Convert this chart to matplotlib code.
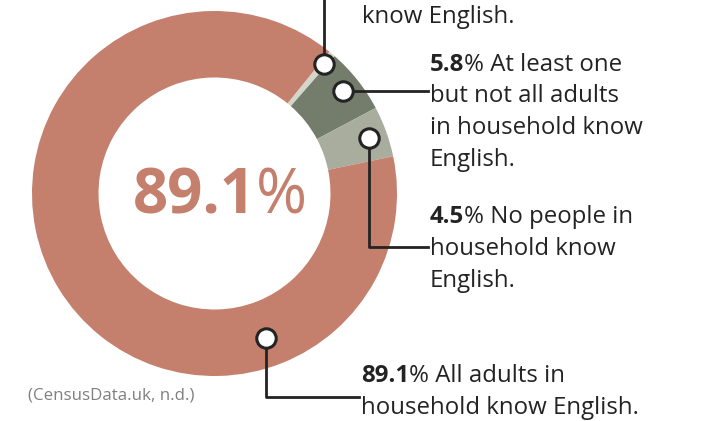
import matplotlib
matplotlib.use('Agg')
import matplotlib.pyplot as plt
import numpy as np

# household English proficiency shares (%), clockwise from the small top slice
shares = [0.6, 5.8, 4.5, 89.1]
slice_colors = ['#d3d6c9', '#747c6c', '#a8ad9d', '#c47f6d']
# wrapped label text for each slice; the first slice's label runs off the top
label_lines = [
    ['know English.'],
    ['At least one', 'but not all adults', 'in household know', 'English.'],
    ['No people in', 'household know', 'English.'],
    ['All adults in', 'household know English.'],
]
show_value = [False, True, True, True]
source = '(CensusData.uk, n.d.)'

W, H = 707, 421
plt.rcParams['font.family'] = ['Open Sans', 'DejaVu Sans']

fig = plt.figure(figsize=(W / 100, H / 100), dpi=100)
ax = fig.add_axes([0, 0, 1, 1])

cx, cy = 214.5, H - 193.5
R = 182.5
wedges, _ = ax.pie(shares, colors=slice_colors, startangle=51, counterclock=False,
                   radius=R, center=(cx, cy),
                   wedgeprops=dict(width=66.5, linewidth=0))
ax.set_xlim(0, W)
ax.set_ylim(0, H)
ax.set_aspect('auto')
ax.axis('off')

renderer = fig.canvas.get_renderer()
ink = '#232323'
fs = 17.3


def value_line(x, y, value, rest, size, color):
    t = ax.text(x, y, f'{value:g}', fontsize=size, fontweight='bold', color=color,
                va='baseline', ha='left')
    w = t.get_window_extent(renderer).width
    ax.text(x + w, y, '%' + rest, fontsize=size, color=color, va='baseline', ha='left')


# marker placement along each wedge (fraction of the way clockwise, radius factor)
along = [0.5, 0.5, 0.5, 0.256]
rad = [0.93, 0.9, 0.9, 0.84]
# leader routing: (kind, bend y from top, end x)
routes = [('up', None, None), ('right', None, 428), ('down', 247, 428), ('down', 397, 359)]
text_pos = [(362, [22.7]), (430, [70.7, 102.5, 134.3, 166]),
            (430, [222.7, 254.7, 286.7]), (361, [381.7, 414])]

for i, wd in enumerate(wedges):
    ang = np.radians(wd.theta2 - along[i] * (wd.theta2 - wd.theta1))
    mx = cx + rad[i] * R * np.cos(ang)
    my = cy + rad[i] * R * np.sin(ang)
    kind, yb, xe = routes[i]
    if kind == 'up':
        ax.plot([mx, mx], [my, H + 20], color=ink, lw=2, zorder=4, clip_on=False)
    elif kind == 'right':
        ax.plot([mx, xe], [my, my], color=ink, lw=2, zorder=4)
    else:
        ax.plot([mx, mx, xe], [my, H - yb, H - yb], color=ink, lw=2, zorder=4)
    ax.plot(mx, my, 'o', ms=14, mfc='white', mec=ink, mew=2.2, zorder=5)

    tx, ys = text_pos[i]
    for j, (line, yy) in enumerate(zip(label_lines[i], ys)):
        if j == 0 and show_value[i]:
            value_line(tx, H - yy, shares[i], ' ' + line, fs, ink)
        else:
            ax.text(tx, H - yy, line, fontsize=fs, color=ink, va='baseline', ha='left')

# big figure in the middle of the ring
big = 44.5
t1 = ax.text(0, H - 213, f'{shares[3]:g}', fontsize=big, fontweight='bold',
             color=slice_colors[3], va='baseline', ha='left')
t2 = ax.text(0, H - 213, '%', fontsize=big, color=slice_colors[3], va='baseline', ha='left')
w1 = t1.get_window_extent(renderer).width
w2 = t2.get_window_extent(renderer).width
x0 = 220 - (w1 + w2) / 2
t1.set_x(x0)
t2.set_x(x0 + w1)

ax.text(27.5, H - 399, source, fontsize=12.2, color='#808080', va='baseline', ha='left')

fig.savefig('out.png', dpi=100)
